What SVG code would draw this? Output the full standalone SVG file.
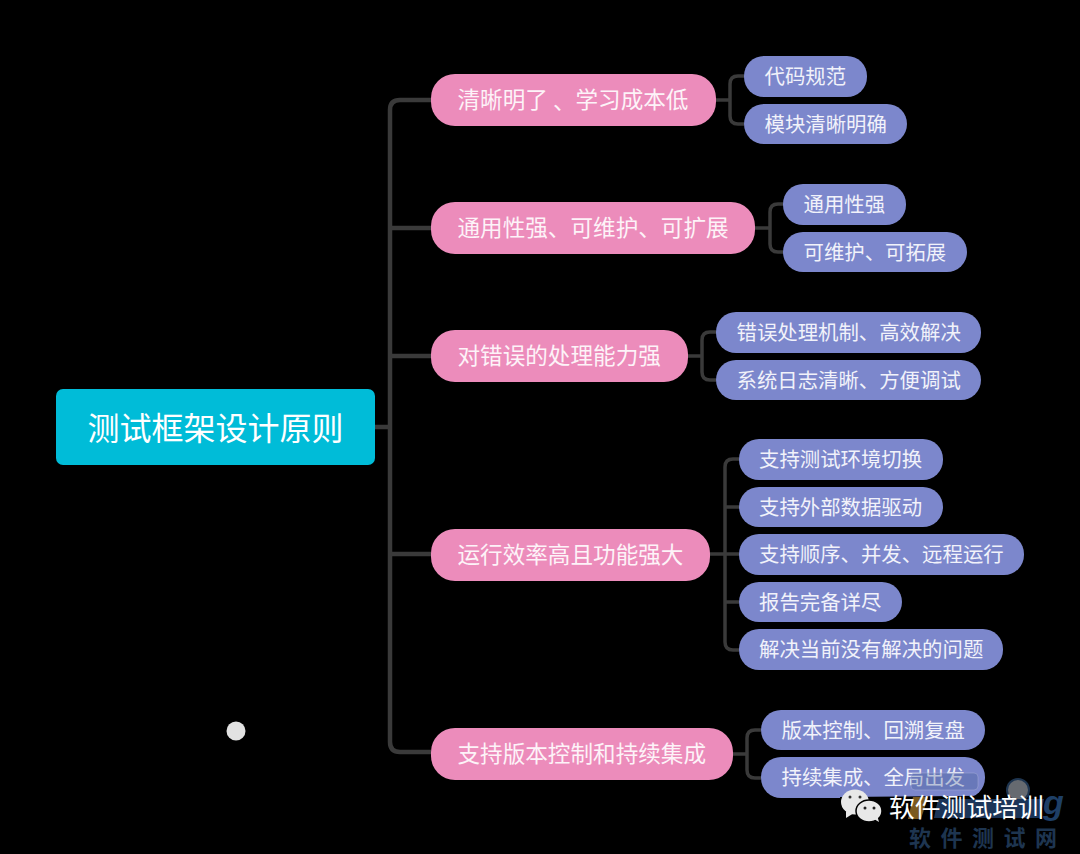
<svg xmlns="http://www.w3.org/2000/svg" width="1080" height="854" viewBox="0 0 1080 854">
<style>
text{font-family:"Noto Sans CJK SC","Noto Sans",sans-serif;fill:#fff;dominant-baseline:central}
.root rect{fill:#00bcd8}
.root text{font-size:32px}
.topic rect{fill:#ec8cbb}
.topic text{font-size:22.6px;fill:#fdf3f8}
.leaf rect{fill:#7c87cc}
.leaf text{font-size:20.4px;fill:#f1f2fa}
.main{fill:none;stroke:#3a3a3a;stroke-width:4.500}
.sub{fill:none;stroke:#3a3a3a;stroke-width:3.500}
.mark{font-size:25.800px}
.mark2{font-size:22px;font-weight:700;fill:#1e3550;letter-spacing:9.500px}
</style>
<rect width="1080" height="854" fill="#000"/>
<g id="connectors">
<path class="main" d="M375 427H390M431 100H400Q390 100 390 110V742Q390 752 400 752H431M390 228H431M390 356H431M390 554H431"/>
<path class="sub" d="M716 100H730M744 76H738Q730 76 730 84V116Q730 124 738 124H744"/>
<path class="sub" d="M755 228H770M783 204H778Q770 204 770 212V244Q770 252 778 252H783"/>
<path class="sub" d="M688 356H702M716 332H710Q702 332 702 340V372Q702 380 710 380H716"/>
<path class="sub" d="M710 554H739M739 459H733Q725 459 725 467V642Q725 650 733 650H739M725 507H739M725 602H739"/>
<path class="sub" d="M733 754H747M761 730H755Q747 730 747 738V770Q747 778 755 778H761"/>
</g>
<g id="root" class="root"><rect x="56" y="389" width="319" height="76" rx="7"/><text x="215.500" y="425.500" text-anchor="middle">测试框架设计原则</text></g>
<g id="topic1" class="topic"><rect x="431" y="74" width="285" height="52" rx="24"/><text x="457.500" y="98.500">清晰明了<tspan dx="5">、</tspan>学习成本低</text></g>
<g id="topic2" class="topic"><rect x="431" y="202" width="324" height="52" rx="24"/><text x="457.500" y="226.500">通用性强、可维护、可扩展</text></g>
<g id="topic3" class="topic"><rect x="431" y="330" width="257" height="52" rx="24"/><text x="457.500" y="354.500">对错误的处理能力强</text></g>
<g id="topic4" class="topic"><rect x="431" y="529" width="279" height="52" rx="24"/><text x="457.500" y="553.500">运行效率高且功能强大</text></g>
<g id="topic5" class="topic"><rect x="431" y="728" width="302" height="52" rx="24"/><text x="457.500" y="752.500">支持版本控制和持续集成</text></g>
<g id="leaf1a" class="leaf"><rect x="744" y="56" width="123" height="41" rx="20"/><text x="764.500" y="75">代码规范</text></g>
<g id="leaf1b" class="leaf"><rect x="744" y="104" width="163" height="40" rx="20"/><text x="764.500" y="122.500">模块清晰明确</text></g>
<g id="leaf2a" class="leaf"><rect x="783" y="184" width="123" height="41" rx="20"/><text x="803.500" y="203">通用性强</text></g>
<g id="leaf2b" class="leaf"><rect x="783" y="232" width="184" height="40" rx="20"/><text x="803.500" y="250.500">可维护、可拓展</text></g>
<g id="leaf3a" class="leaf"><rect x="716" y="312" width="265" height="41" rx="20"/><text x="736.500" y="331">错误处理机制、高效解决</text></g>
<g id="leaf3b" class="leaf"><rect x="716" y="360" width="265" height="40" rx="20"/><text x="736.500" y="378.500">系统日志清晰、方便调试</text></g>
<g id="leaf4a" class="leaf"><rect x="739" y="439" width="204" height="41" rx="20"/><text x="759" y="458">支持测试环境切换</text></g>
<g id="leaf4b" class="leaf"><rect x="739" y="487" width="204" height="40" rx="20"/><text x="759" y="505.500">支持外部数据驱动</text></g>
<g id="leaf4c" class="leaf"><rect x="739" y="534" width="285" height="41" rx="20"/><text x="759" y="553">支持顺序、并发、远程运行</text></g>
<g id="leaf4d" class="leaf"><rect x="739" y="582" width="163" height="40" rx="20"/><text x="759" y="600.500">报告完备详尽</text></g>
<g id="leaf4e" class="leaf"><rect x="739" y="629" width="264" height="41" rx="20"/><text x="759" y="648">解决当前没有解决的问题</text></g>
<g id="leaf5a" class="leaf"><rect x="761" y="710" width="224" height="40" rx="20"/><text x="781.500" y="729">版本控制、回溯复盘</text></g>
<g id="leaf5b" class="leaf"><rect x="761" y="757" width="224" height="41" rx="20"/><text x="781.500" y="776">持续集成、全局出发</text></g>
<circle cx="236" cy="731" r="9.500" fill="#e2e2e2"/>
<g id="watermark">
<path d="M840 797L1066 795V854H840Z" fill="#000"/>
<rect x="911" y="773" width="67" height="17" rx="4" fill="#3c5590" fill-opacity=".3" stroke="#a4acd8" stroke-opacity=".5"/>
<circle cx="1018" cy="790" r="11" fill="#666a70" stroke="#1e3550" stroke-width="2"/>
<path d="M913 797H928L921 819H908Z" fill="#7a5a20"/>
<path d="M938 799H1044L1040 818H934Z" fill="#1b3558"/>
<text x="1043" y="802" font-size="34" font-weight="700" font-style="italic" style="font-family:'Liberation Sans',sans-serif;fill:#1e3f66">g</text>
<ellipse cx="855" cy="802" rx="14" ry="12.500" fill="#e8e8e8"/>
<path d="M846 811L846 818L854 813Z" fill="#e8e8e8"/>
<circle cx="850" cy="797" r="1.500" fill="#333"/><circle cx="860" cy="797" r="1.500" fill="#333"/>
<ellipse cx="869" cy="811" rx="13" ry="11" fill="#e8e8e8" stroke="#000" stroke-width="1.500"/>
<path d="M874 819L879 822L877 815Z" fill="#e8e8e8"/>
<circle cx="865" cy="808" r="1.500" fill="#222"/><circle cx="874" cy="808" r="1.500" fill="#222"/>
<text class="mark" x="889" y="805">软件测试培训</text>
<text class="mark2" x="909" y="836">软件测试网</text>
</g>
</svg>
